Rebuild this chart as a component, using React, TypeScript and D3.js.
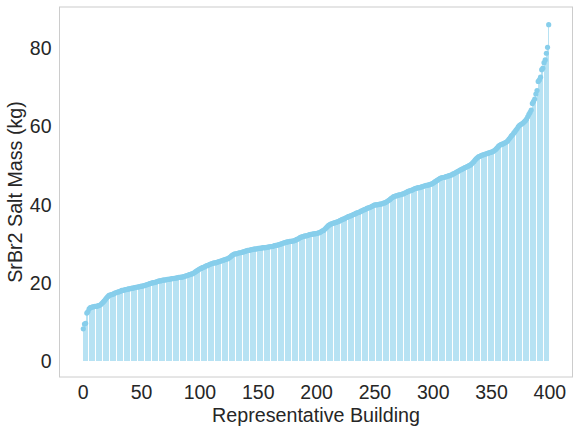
import * as d3 from 'd3';

// sorted salt mass per representative building (kg)
const saltMass: number[] = [
  8.3, 9.5, 9.7, 12.3, 12.7, 13.4, 13.7, 13.8, 13.9, 13.9,
  14.0, 14.0, 14.1, 14.2, 14.3, 14.5, 14.8, 15.1, 15.4, 15.8,
  16.2, 16.5, 16.8, 16.9, 17.0, 17.1, 17.2, 17.4, 17.5, 17.6,
  17.7, 17.8, 17.9, 18.1, 18.1, 18.2, 18.3, 18.3, 18.4, 18.5,
  18.5, 18.6, 18.7, 18.7, 18.8, 18.9, 18.9, 19.0, 19.0, 19.1,
  19.2, 19.2, 19.3, 19.4, 19.5, 19.6, 19.7, 19.8, 19.9, 20.0,
  20.1, 20.1, 20.2, 20.3, 20.4, 20.5, 20.5, 20.6, 20.7, 20.7,
  20.8, 20.8, 20.9, 20.9, 21.0, 21.0, 21.1, 21.1, 21.2, 21.2,
  21.3, 21.3, 21.4, 21.4, 21.5, 21.5, 21.6, 21.7, 21.8, 21.9,
  22.0, 22.1, 22.2, 22.3, 22.4, 22.6, 22.8, 23.0, 23.2, 23.4,
  23.6, 23.7, 23.9, 24.0, 24.1, 24.3, 24.4, 24.5, 24.7, 24.8,
  24.9, 25.0, 25.1, 25.1, 25.2, 25.3, 25.4, 25.5, 25.6, 25.7,
  25.8, 25.9, 26.0, 26.1, 26.2, 26.4, 26.6, 26.9, 27.1, 27.3,
  27.4, 27.4, 27.5, 27.6, 27.7, 27.7, 27.8, 27.9, 28.0, 28.1,
  28.2, 28.3, 28.3, 28.4, 28.5, 28.5, 28.6, 28.6, 28.7, 28.7,
  28.8, 28.8, 28.9, 28.9, 29.0, 29.0, 29.0, 29.1, 29.1, 29.2,
  29.2, 29.3, 29.3, 29.4, 29.5, 29.6, 29.6, 29.7, 29.8, 29.9,
  30.0, 30.1, 30.2, 30.3, 30.4, 30.5, 30.5, 30.6, 30.6, 30.7,
  30.7, 30.8, 30.9, 31.1, 31.2, 31.4, 31.6, 31.7, 31.8, 31.9,
  32.0, 32.0, 32.1, 32.2, 32.3, 32.4, 32.4, 32.5, 32.5, 32.6,
  32.6, 32.7, 32.8, 32.9, 33.1, 33.3, 33.4, 33.7, 34.0, 34.3,
  34.6, 34.8, 35.0, 35.1, 35.2, 35.3, 35.4, 35.5, 35.6, 35.7,
  35.9, 36.0, 36.2, 36.3, 36.4, 36.6, 36.7, 36.9, 37.0, 37.1,
  37.2, 37.4, 37.5, 37.6, 37.8, 37.9, 38.0, 38.1, 38.3, 38.4,
  38.6, 38.7, 38.8, 39.0, 39.1, 39.2, 39.3, 39.5, 39.6, 39.8,
  39.9, 39.9, 40.0, 40.0, 40.1, 40.1, 40.2, 40.3, 40.4, 40.5,
  40.7, 40.9, 41.1, 41.3, 41.6, 41.8, 42.0, 42.1, 42.2, 42.3,
  42.4, 42.5, 42.5, 42.6, 42.7, 42.8, 43.0, 43.1, 43.3, 43.4,
  43.5, 43.6, 43.7, 43.9, 44.0, 44.1, 44.2, 44.3, 44.3, 44.4,
  44.5, 44.6, 44.7, 44.8, 44.9, 44.9, 45.0, 45.1, 45.2, 45.3,
  45.5, 45.7, 45.9, 46.1, 46.3, 46.5, 46.7, 46.8, 46.9, 46.9,
  47.0, 47.1, 47.2, 47.3, 47.4, 47.5, 47.6, 47.8, 47.9, 48.1,
  48.3, 48.4, 48.6, 48.8, 48.9, 49.1, 49.2, 49.4, 49.5, 49.7,
  49.8, 50.0, 50.1, 50.4, 50.7, 51.0, 51.4, 51.7, 52.0, 52.2,
  52.3, 52.5, 52.6, 52.7, 52.8, 52.9, 53.0, 53.1, 53.2, 53.3,
  53.4, 53.5, 53.7, 53.9, 54.2, 54.5, 54.9, 55.1, 55.3, 55.4,
  55.5, 55.7, 55.8, 56.0, 56.3, 56.7, 57.1, 57.5, 57.8, 58.2,
  58.6, 59.0, 59.4, 59.9, 60.2, 60.4, 60.6, 60.8, 61.1, 61.4,
  61.8, 62.4, 63.0, 63.5, 64.1, 65.8, 66.3, 66.9, 68.2, 69.1,
  71.4, 71.8, 72.5, 74.4, 74.8, 76.2, 76.9, 78.6, 80.1, 85.9,
];

const xTicks = [0, 50, 100, 150, 200, 250, 300, 350, 400];
const yTicks = [0, 20, 40, 60, 80];

const W = 580;
const H = 433;
const frame = { left: 59.5, right: 572.5, top: 7, bottom: 377 };
const font = '"Liberation Sans", Arial, sans-serif';
const textColor = '#262626';
const sky = '#87ceeb';

export default function App() {
  const n = saltMass.length;
  // matplotlib-style 5% margins around the data
  const x = d3
    .scaleLinear()
    .domain([-20.4, 419.4])
    .range([frame.left, frame.right]);
  const y = d3
    .scaleLinear()
    .domain([-4.0, 90.4])
    .range([frame.bottom, frame.top]);

  const barW = x(0.8) - x(0);
  const idx = d3.range(n);

  return (
    <svg
      width={W}
      height={H}
      style={{ position: 'absolute', left: 0, top: 0, background: '#fff' }}
      fontFamily={font}
    >
      <rect x={0} y={0} width={W} height={H} fill="#fff" />

      {/* bars */}
      <g fill={sky} fillOpacity={0.6} shapeRendering="crispEdges">
        {idx.map((i) => (
          <rect
            key={i}
            x={x(i) - barW / 2}
            y={y(saltMass[i])}
            width={barW}
            height={y(0) - y(saltMass[i])}
          />
        ))}
      </g>

      {/* markers */}
      <g fill={sky}>
        {idx.map((i) => (
          <circle key={i} cx={x(i)} cy={y(saltMass[i])} r={2.6} />
        ))}
      </g>

      {/* frame */}
      <rect
        x={frame.left}
        y={frame.top}
        width={frame.right - frame.left}
        height={frame.bottom - frame.top}
        fill="none"
        stroke="#cccccc"
        strokeWidth={1}
      />

      {/* x tick labels */}
      <g fontSize={19.5} fill={textColor} textAnchor="middle">
        {xTicks.map((t) => (
          <text key={t} x={x(t)} y={399}>
            {t}
          </text>
        ))}
      </g>

      {/* y tick labels */}
      <g fontSize={19.5} fill={textColor} textAnchor="end">
        {yTicks.map((t) => (
          <text key={t} x={51.5} y={y(t) + 7}>
            {t}
          </text>
        ))}
      </g>

      <text
        x={(frame.left + frame.right) / 2}
        y={422}
        fontSize={19.7}
        fill={textColor}
        textAnchor="middle"
      >
        Representative Building
      </text>
      <text
        transform={`translate(22, ${(frame.top + frame.bottom) / 2}) rotate(-90)`}
        fontSize={19.7}
        fill={textColor}
        textAnchor="middle"
      >
        SrBr2 Salt Mass (kg)
      </text>
    </svg>
  );
}
